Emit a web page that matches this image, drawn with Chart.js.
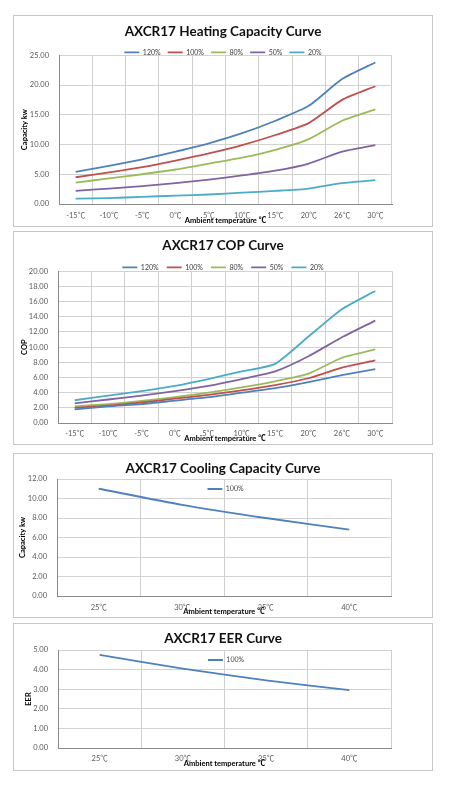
<!DOCTYPE html>
<html>
<head>
<meta charset="utf-8">
<script src="https://cdn.jsdelivr.net/npm/chart.js@4.4.0/dist/chart.umd.min.js"></script>
<style>
  body { margin: 0; background: #fff; }
  .box { position: absolute; left: 13px; width: 420px; border: 1px solid #c8c8c8; box-sizing: border-box; }
  .box canvas { position: absolute; left: -1px; top: -1px; }
</style>
</head>
<body>
<div class="box" style="top:15px;height:212px"><canvas id="heatChart" width="420" height="212"></canvas></div>
<div class="box" style="top:231px;height:214px"><canvas id="copChart" width="420" height="214"></canvas></div>
<div class="box" style="top:453px;height:165px"><canvas id="coolChart" width="420" height="165"></canvas></div>
<div class="box" style="top:623px;height:148px"><canvas id="eerChart" width="420" height="148"></canvas></div>
<script>
// ---- data ----
const heatTemps = ['-15℃', '-10℃', '-5℃', '0℃', '5℃', '10℃', '15℃', '20℃', '26℃', '30℃'];
const loadNames = ['120%', '100%', '80%', '50%', '20%'];
const loadColors = ['#4F81BD', '#C0504D', '#9BBB59', '#8064A2', '#4BACC6'];

const heat120 = [5.4, 6.4, 7.5, 8.8, 10.2, 11.9, 14.0, 16.5, 21.0, 23.8];
const heat100 = [4.5, 5.3, 6.2, 7.3, 8.5, 9.9, 11.6, 13.6, 17.5, 19.8];
const heat80  = [3.6, 4.3, 5.0, 5.8, 6.8, 7.8, 9.1, 10.9, 14.0, 15.9];
const heat50  = [2.2, 2.6, 3.0, 3.5, 4.1, 4.8, 5.6, 6.8, 8.8, 9.9];
const heat20  = [0.9, 1.0, 1.2, 1.4, 1.6, 1.9, 2.2, 2.6, 3.5, 4.0];

const cop120 = [1.8, 2.2, 2.5, 2.95, 3.4, 4.0, 4.6, 5.4, 6.3, 7.1];
const cop100 = [2.0, 2.3, 2.7, 3.2, 3.7, 4.3, 5.0, 5.9, 7.3, 8.25];
const cop80  = [2.2, 2.5, 2.9, 3.4, 4.0, 4.7, 5.5, 6.5, 8.6, 9.7];
const cop50  = [2.6, 3.1, 3.6, 4.2, 4.9, 5.8, 6.8, 8.8, 11.3, 13.5];
const cop20  = [3.0, 3.6, 4.2, 4.9, 5.8, 6.8, 7.8, 11.4, 15.0, 17.4];

const coolTemps = ['25℃', '30℃', '35℃', '40℃'];
const cool100 = [11.0, 9.35, 8.0, 6.8];
const eer100 = [4.75, 4.05, 3.45, 2.95];

Chart.defaults.font.family = "Lato, 'Open Sans', sans-serif";
Chart.defaults.color = '#595959';
// the ℃ sign comes from the CJK font, like the original
const tempFont = "Lato, 'Noto Sans CJK SC', sans-serif";

// title (and top legend) centred on the whole box, not on box minus right padding
const fullWidthHeader = {
  id: 'fullWidthHeader',
  afterLayout: function(chart) {
    var t = chart.titleBlock;
    t.left = 0; t.right = chart.width; t.width = chart.width;
    var lg = chart.legend;
    if (lg.options.position === 'top') {
      lg.left = 0; lg.right = chart.width; lg.width = chart.width;
    }
  }
};

// move the legend inside the plot (cooling / EER charts)
const legendInPlot = {
  id: 'legendInPlot',
  afterLayout: function(chart) {
    var area = chart.chartArea, lg = chart.legend;
    var h = lg.height, w = lg.width;
    lg.left = area.left + area.width * 0.45;
    lg.top = area.top + 6.5;
    lg.right = lg.left + w;
    lg.bottom = lg.top + h;
  }
};

function makeSets(series, names, colors) {
  return series.map(function(vals, i) {
    return {
      label: names[i],
      data: vals,
      borderColor: colors[i],
      backgroundColor: colors[i],
      borderWidth: 1.8,
      pointRadius: 0,
      tension: 0.2,
      fill: false
    };
  });
}

function lineChart(id, labels, datasets, c) {
  var ctx = document.getElementById(id).getContext('2d');
  var legend = c.inside ? {
    position: 'chartArea', align: 'start',
    labels: { usePointStyle: true, pointStyle: 'line', pointStyleWidth: 15, boxHeight: 7, padding: 0, color: '#404040', font: { size: 7 } }
  } : {
    position: 'top', maxHeight: c.legendH,
    labels: { usePointStyle: true, pointStyle: 'line', pointStyleWidth: 15, boxHeight: 7, padding: c.legendPad, color: '#404040', font: { size: 7 } }
  };
  return new Chart(ctx, {
    type: 'line',
    data: { labels: labels, datasets: datasets },
    options: {
      responsive: false,
      animation: false,
      layout: { padding: { top: 0, left: 0, bottom: 0, right: c.padRight } },
      plugins: {
        title: { display: true, text: c.title, color: '#111', font: { size: 13.5, weight: 'bold' }, padding: { top: c.titleTop, bottom: c.titleBottom } },
        legend: legend,
        tooltip: { enabled: false }
      },
      scales: {
        x: {
          offset: true,
          grid: { offset: true, color: '#cfcfcf', drawTicks: false },
          border: { color: '#8a8a8a' },
          ticks: { font: { size: 7.5, family: tempFont }, padding: c.xTickPad, maxRotation: 0, autoSkip: false },
          title: { display: true, text: 'Ambient temperature ℃', color: '#000', font: { size: 7.5, weight: 'bold', family: tempFont }, padding: { top: 0, bottom: c.xTitlePad } },
          afterFit: function(s) { s.height = c.xH; }
        },
        y: {
          min: 0, max: c.yMax,
          grid: { color: '#d2d2d2', drawTicks: false },
          border: { color: '#8a8a8a' },
          ticks: { stepSize: c.yStep, font: { size: 7.5 }, padding: 10, callback: function(v) { return v.toFixed(2); } },
          title: { display: true, text: c.yTitle, color: '#000', font: { size: 7.5, weight: 'bold' }, padding: { top: c.yTitlePad, bottom: 0 } },
          afterFit: function(s) { s.width = c.yW; }
        }
      }
    },
    plugins: c.inside ? [fullWidthHeader, legendInPlot] : [fullWidthHeader]
  });
}

function drawAll() {
  lineChart('heatChart', heatTemps,
    makeSets([heat120, heat100, heat80, heat50, heat20], loadNames, loadColors), {
      title: 'AXCR17 Heating Capacity Curve', titleTop: 8.7, titleBottom: 2,
      legendPad: 7, legendH: 13.4, padRight: 41, yW: 46, xH: 23, xTickPad: 7, xTitlePad: 1.5,
      yMax: 25, yStep: 5, yTitle: 'Capacity kw', yTitlePad: 7.5
    });

  lineChart('copChart', heatTemps,
    makeSets([cop120, cop100, cop80, cop50, cop20], loadNames, loadColors), {
      title: 'AXCR17 COP Curve', titleTop: 6.7, titleBottom: 2,
      legendPad: 8, legendH: 15.4, padRight: 41, yW: 45, xH: 22, xTickPad: 6, xTitlePad: 1.5,
      yMax: 20, yStep: 2, yTitle: 'COP', yTitlePad: 7.5
    });

  lineChart('coolChart', coolTemps,
    makeSets([cool100], ['100%'], [loadColors[0]]), {
      title: 'AXCR17 Cooling Capacity Curve', titleTop: 7.7, titleBottom: 2.1, inside: true,
      padRight: 42, yW: 44, xH: 22, xTickPad: 7, xTitlePad: 1.5,
      yMax: 12, yStep: 2, yTitle: 'Capacity kw', yTitlePad: 5.5
    });

  lineChart('eerChart', coolTemps,
    makeSets([eer100], ['100%'], [loadColors[0]]), {
      title: 'AXCR17 EER Curve', titleTop: 7.7, titleBottom: 3.1, inside: true,
      padRight: 42, yW: 45, xH: 23, xTickPad: 6, xTitlePad: 2.5,
      yMax: 5, yStep: 1, yTitle: 'EER', yTitlePad: 11.5
    });
}

if (document.fonts && document.fonts.load) {
  Promise.all([
    document.fonts.load('7px Lato'),
    document.fonts.load('bold 13px Lato'),
    document.fonts.load("7px 'Noto Sans CJK SC'", '℃')
  ]).then(drawAll, drawAll);
} else {
  drawAll();
}
</script>
</body>
</html>
